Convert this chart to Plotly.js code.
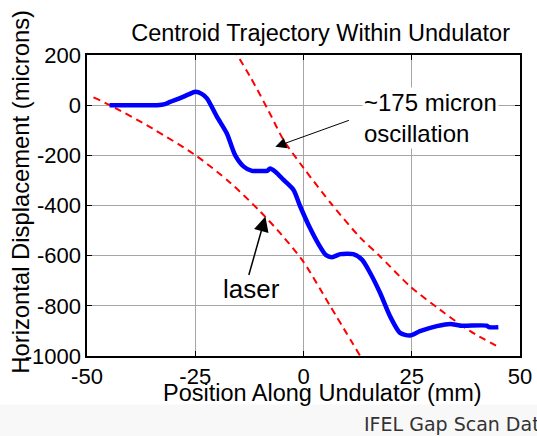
<!DOCTYPE html>
<html>
<head>
<meta charset="utf-8">
<script src="https://cdn.plot.ly/plotly-3.0.1.min.js"></script>
<style>
  html, body { margin: 0; padding: 0; background: #ffffff; }
  #chart { width: 537px; height: 436px; }
</style>
</head>
<body>
<div id="chart"></div>
<script>
// ---- data ----
const trajX = [-44.8, -40, -36, -33.8, -32, -30.8, -28.5, -26.5, -25.0, -23.5, -22.3, -20.0, -17.7, -15.8, -13.8, -11.9, -10, -8.4, -7.7, -6.5, -4.6, -2.3, -0.8, 1.5, 3.5, 5.2, 6.6, 8.5, 11.5, 13.5, 15.4, 17.7, 20.0, 22.3, 24.6, 26.9, 30.8, 33.9, 36.2, 42.3, 42.8, 45.0];
const trajY = [0, 0, 0, 0, 4, 13, 28, 43, 53, 45, 27, -46, -113, -199, -245, -262, -262, -262, -252, -265, -298, -338, -402, -490, -555, -598, -606, -594, -594, -616, -669, -749, -842, -908, -918, -901, -881, -872, -879, -879, -885, -885];

const laserX = [-48.5, -44.7, -35, -25.0, -17, -10.0, -5, 0, 6.2, 13.1];
const laserY = [31, 0, -92, -199, -308, -424, -518, -625, -802, -1000];

const envX = [-16.2, -12.3, -8, -4.6, 0, 6.5, 13.1, 17.7, 24.6, 31.5, 38.5, 45.4];
const envY = [225, 113, -25, -139, -250, -395, -528, -603, -722, -815, -901, -967];

const xTickVals = [-50, -25, 0, 25, 50];
const xTickLabels = ['-50', '-25', '0', '25', '50'];
const yTickVals = [200, 0, -200, -400, -600, -800, -1000];
const yTickLabels = ['200', '0', '-200', '-400', '-600', '-800', '-1000'];

const chartTitle = 'Centroid Trajectory Within Undulator';
const xTitle = 'Position Along Undulator (mm)';
const yTitle = 'Horizontal Displacement (microns)';
const oscLabel = '~175 micron<br>oscillation';
const laserLabel = 'laser';
const footer = 'IFEL Gap Scan Data';

// ---- chart ----
const FONT = '"Liberation Sans", Arial, Helvetica, sans-serif';

const traces = [
  { x: envX, y: envY, type: 'scatter', mode: 'lines',
    line: { color: '#ff0000', width: 2, dash: '7px,5px', shape: 'spline', smoothing: 0.8 }, hoverinfo: 'skip' },
  { x: laserX, y: laserY, type: 'scatter', mode: 'lines',
    line: { color: '#ff0000', width: 2, dash: '7px,5px', shape: 'spline', smoothing: 0.8 }, hoverinfo: 'skip' },
  { x: trajX, y: trajY, type: 'scatter', mode: 'lines',
    line: { color: '#0000ff', width: 4.5, shape: 'spline', smoothing: 0.7 } }
];

const axisCommon = {
  showgrid: true, gridcolor: '#a6a6a6', gridwidth: 1,
  zeroline: false, showline: true, linecolor: '#000000', linewidth: 1.6,
  mirror: 'ticks', ticks: 'inside', ticklen: 5, tickcolor: '#000000', tickwidth: 1,
  tickfont: { family: FONT, size: 22, color: '#000000' }, fixedrange: true
};

const layout = {
  width: 537, height: 436,
  margin: { l: 87, r: 17, t: 55, b: 80, pad: 0 },
  paper_bgcolor: '#ffffff', plot_bgcolor: '#ffffff',
  showlegend: false,
  font: { family: FONT, size: 22, color: '#000000' },
  title: { text: chartTitle, font: { family: FONT, size: 23.5, color: '#000000' },
           x: 0.597, xref: 'container', xanchor: 'center', y: 0.925, yanchor: 'middle' },
  xaxis: Object.assign({}, axisCommon, { range: [-50, 50], tickmode: 'array', tickvals: xTickVals, ticktext: xTickLabels }),
  yaxis: Object.assign({}, axisCommon, { range: [-1000, 200], tickmode: 'array', tickvals: yTickVals, ticktext: yTickLabels }),
  shapes: [
    { type: 'rect', xref: 'paper', yref: 'paper', x0: -0.25, x1: 1.1, y0: -0.3, y1: -0.161,
      fillcolor: '#f8f8f8', line: { width: 0 }, layer: 'below' }
  ],
  annotations: [
    { text: xTitle, xref: 'paper', yref: 'paper', x: 0.543, y: -0.124, xanchor: 'center', yanchor: 'middle',
      showarrow: false, font: { family: FONT, size: 23.5, color: '#000000' } },
    { text: yTitle, xref: 'paper', yref: 'paper', x: -0.153, y: 0.545, xanchor: 'center', yanchor: 'middle',
      textangle: -90, showarrow: false, font: { family: FONT, size: 23.8, color: '#000000' } },
    { text: oscLabel, xref: 'paper', yref: 'paper', x: 0.635, y: 0.792, xanchor: 'left', yanchor: 'middle',
      align: 'left', showarrow: false, bgcolor: '#ffffff', font: { family: FONT, size: 24, color: '#000000' } },
    { text: laserLabel, xref: 'paper', yref: 'paper', x: 0.381, y: 0.224, xanchor: 'center', yanchor: 'middle',
      showarrow: false, font: { family: FONT, size: 26, color: '#000000' } },
    { text: '', xref: 'x', yref: 'y', x: -6.5, y: -166, ax: 75, ay: -27, showarrow: true,
      arrowhead: 2, arrowsize: 2.2, arrowwidth: 1, arrowcolor: '#000000', standoff: 0 },
    { text: '', xref: 'x', yref: 'y', x: -8.8, y: -444, ax: -17, ay: 60, showarrow: true,
      arrowhead: 2, arrowsize: 2, arrowwidth: 1.5, arrowcolor: '#000000', standoff: 0 },
    { text: footer, xref: 'paper', yref: 'paper', x: 0.636, y: -0.227, xanchor: 'left', yanchor: 'middle',
      showarrow: false, font: { family: '"DejaVu Sans", sans-serif', size: 19, color: '#333333' } }
  ]
};

Plotly.newPlot('chart', traces, layout, { displayModeBar: false, staticPlot: true });
</script>
</body>
</html>
